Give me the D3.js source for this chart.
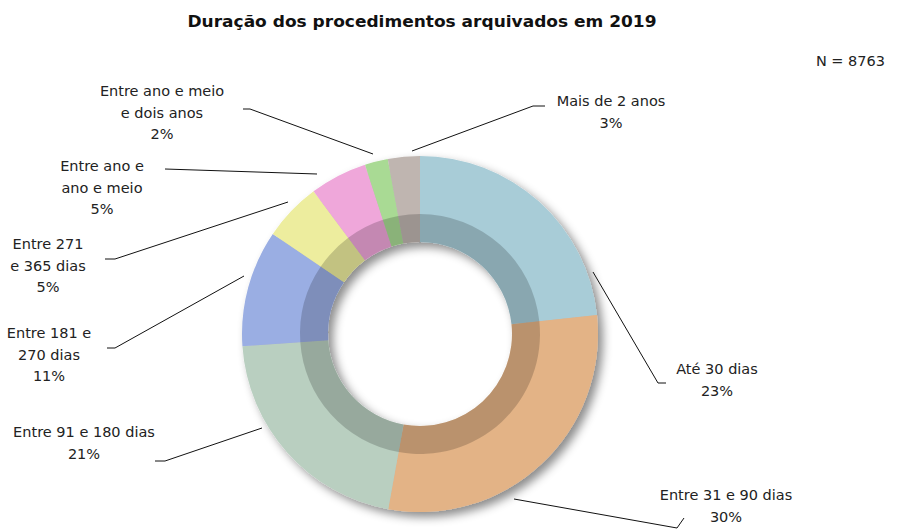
<!DOCTYPE html>
<html>
<head>
<meta charset="utf-8">
<script src="https://cdn.jsdelivr.net/npm/d3@7"></script>
<style>
body{margin:0;background:#fff;}
text{font-family:"DejaVu Sans",sans-serif;fill:#222;}
.lbl{font-size:14.5px;}
.title{font-size:15px;font-weight:700;fill:#111;}
</style>
</head>
<body>
<svg id="chart" width="902" height="529"></svg>
<script>
// dados
var categories = ["Até 30 dias","Entre 31 e 90 dias","Entre 91 e 180 dias","Entre 181 e 270 dias",
  "Entre 271 e 365 dias","Entre ano e ano e meio","Entre ano e meio e dois anos","Mais de 2 anos"];
var counts = [2042,2590,1844,929,464,456,184,254];
var labelLines = [["Até 30 dias"],["Entre 31 e 90 dias"],["Entre 91 e 180 dias"],["Entre 181 e","270 dias"],
  ["Entre 271","e 365 dias"],["Entre ano e","ano e meio"],["Entre ano e meio","e dois anos"],["Mais de 2 anos"]];
var colors = ["#a8ccd7","#e3b386","#b9cfc0","#9aaee3","#eded9e","#efa7da","#a9da94","#bfb5b0"];
var total = 8763;

// label layout: text center x, first baseline y, leader polyline
var labelPos = [
  {x:717, y:374, line:[[593,272],[658,383],[666,383]]},
  {x:726, y:500, line:[[514,499],[677,528],[684,518]]},
  {x:84,  y:437, line:[[262,428],[165,461],[155,461]]},
  {x:49,  y:338, line:[[244,276],[115,348],[107,348]]},
  {x:48,  y:249, line:[[288,202],[115,259],[105,259]]},
  {x:102, y:171, line:[[317,174],[165,169]]},
  {x:162, y:96,  line:[[373,154],[250,109],[243,109]]},
  {x:611, y:106, line:[[412,151],[533,106],[545,106]]}
];

var svg = d3.select("#chart");
var cx = 420, cy = 334, rOuter = 178, rInner = 92, rBand = 120;

var defs = svg.append("defs");
var f = defs.append("filter").attr("id","shadow").attr("x","-20%").attr("y","-20%").attr("width","140%").attr("height","140%");
f.append("feDropShadow").attr("dx",5).attr("dy",5).attr("stdDeviation",5).attr("flood-color","#000").attr("flood-opacity",0.45);

svg.append("text").attr("class","title").attr("x",422).attr("y",27).attr("text-anchor","middle")
  .attr("textLength",469).attr("lengthAdjust","spacingAndGlyphs")
  .text("Duração dos procedimentos arquivados em 2019");
svg.append("text").attr("class","lbl").attr("x",885).attr("y",66).attr("text-anchor","end").text("N = " + total);

var pie = d3.pie().sort(null).value(function(d){return d;});
var arcs = pie(counts);
var arc = d3.arc().innerRadius(rInner).outerRadius(rOuter);
var band = d3.arc().innerRadius(rInner).outerRadius(rBand);

var g = svg.append("g").attr("transform","translate("+cx+","+cy+")");
var ring = g.append("g").attr("filter","url(#shadow)");
ring.selectAll("path.slice").data(arcs).enter().append("path")
  .attr("class","slice")
  .attr("d",arc)
  .style("fill",function(d,i){return colors[i];});
g.selectAll("path.band").data(arcs).enter().append("path")
  .attr("class","band")
  .attr("d",band)
  .style("fill","#000").style("fill-opacity",0.18);

var line = d3.line();
svg.selectAll("path.leader").data(labelPos).enter().append("path")
  .attr("class","leader")
  .attr("d",function(d){return line(d.line);})
  .style("fill","none").style("stroke","#111").style("stroke-width",1);

labelPos.forEach(function(p,i){
  var t = svg.append("text").attr("class","lbl").attr("text-anchor","middle");
  var rows = labelLines[i].concat([Math.round(counts[i]/total*100)+"%"]);
  rows.forEach(function(r,j){
    t.append("tspan").attr("x",p.x).attr("y",p.y + j*21.5).text(r);
  });
});
</script>
</body>
</html>
